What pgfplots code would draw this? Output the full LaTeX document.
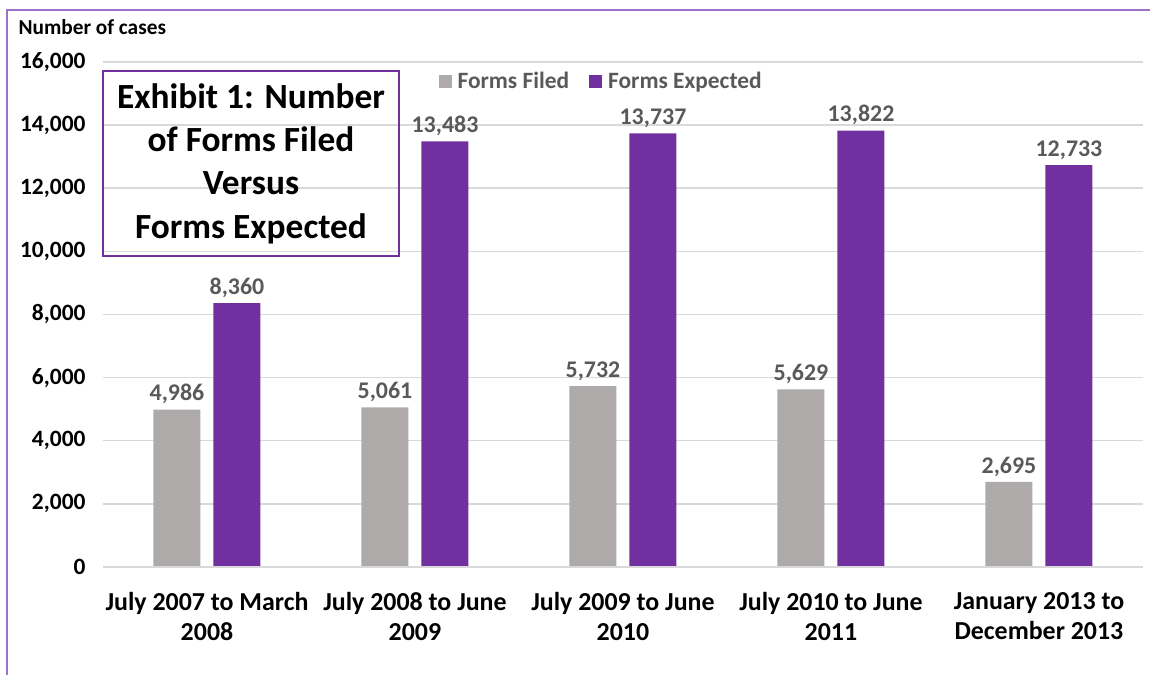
\documentclass[border=0pt]{standalone}
\usepackage{fontspec}
\setmainfont{Carlito}
\usepackage{pgfplots}
\pgfplotsset{compat=1.18}
\definecolor{filed}{HTML}{AEAAAA}
\definecolor{expected}{HTML}{7030A0}
\definecolor{frame}{HTML}{A070C8}
\definecolor{labelgray}{HTML}{595959}
\definecolor{gridgray}{HTML}{D9D9D9}

\begin{document}
\begin{tikzpicture}
\useasboundingbox (-103bp,-108bp) rectangle (1047bp,567bp);
\begin{axis}[
    at={(0,0)}, anchor=south west,
    width=1040bp, height=505bp, scale only axis,
    ybar=13bp,
    bar width=47bp,
    xmin=-0.5, xmax=4.5,
    ymin=0, ymax=16000,
    xtick=data,
    xticklabels={{July 2007 to March\\2008},{July 2008 to June\\2009},{July 2009 to June\\2010},{July 2010 to June\\2011},{January 2013 to\\December 2013}},
    x tick label style={font=\fontsize{26}{30}\selectfont\bfseries, align=center, yshift=-22bp},
    ytick={0,2000,...,16000},
    yticklabel style={font=\fontsize{23.5}{26}\selectfont\bfseries, xshift=-14bp},
    /pgf/number format/assume math mode=true,
    /pgf/number format/1000 sep={,},
    scaled y ticks=false,
    major tick length=0pt,
    axis line style={draw=none},
    ymajorgrids,
    grid style={gridgray, line width=1.5bp},
    nodes near coords,
    nodes near coords style={font=\fontsize{24}{26}\selectfont\bfseries, text=labelgray, /pgf/number format/1000 sep={,}, yshift=2bp},
    legend columns=2,
    legend style={at={(0.479,0.962)}, anchor=center, draw=none, fill=none,
        font=\fontsize{23.5}{26}\selectfont\bfseries, text=labelgray,
        /tikz/every odd column/.append style={column sep=4bp},
        /tikz/every even column/.append style={column sep=18bp}},
    legend image code/.code={\fill[#1] (0bp,-6.5bp) rectangle (13bp,6.5bp);},
]
\addplot[fill=filed, draw=none] coordinates {(0,4986) (1,5061) (2,5732) (3,5629) (4,2695)};
\addplot[fill=expected, draw=none] coordinates {(0,8360) (1,13483) (2,13737) (3,13822) (4,12733)};
\legend{Forms Filed, Forms Expected}
\draw[gridgray, line width=1.5bp] (rel axis cs:0,0) -- (rel axis cs:1,0);
\end{axis}
\draw[frame, line width=2bp] (-96bp,-108bp) -- (-96bp,557bp) -- (1047bp,557bp);
\node[anchor=base west, font=\fontsize{21.4}{24}\selectfont\bfseries] at (-88bp,532bp) {Number of cases};
\draw[expected, line width=1.5bp] (0bp,311bp) rectangle (296bp,496bp);
\node[align=center, font=\fontsize{35.5}{43.5}\selectfont\bfseries] at (148bp,403.5bp) {Exhibit 1: Number\\of Forms Filed\\Versus\\Forms Expected};
\end{tikzpicture}
\end{document}
